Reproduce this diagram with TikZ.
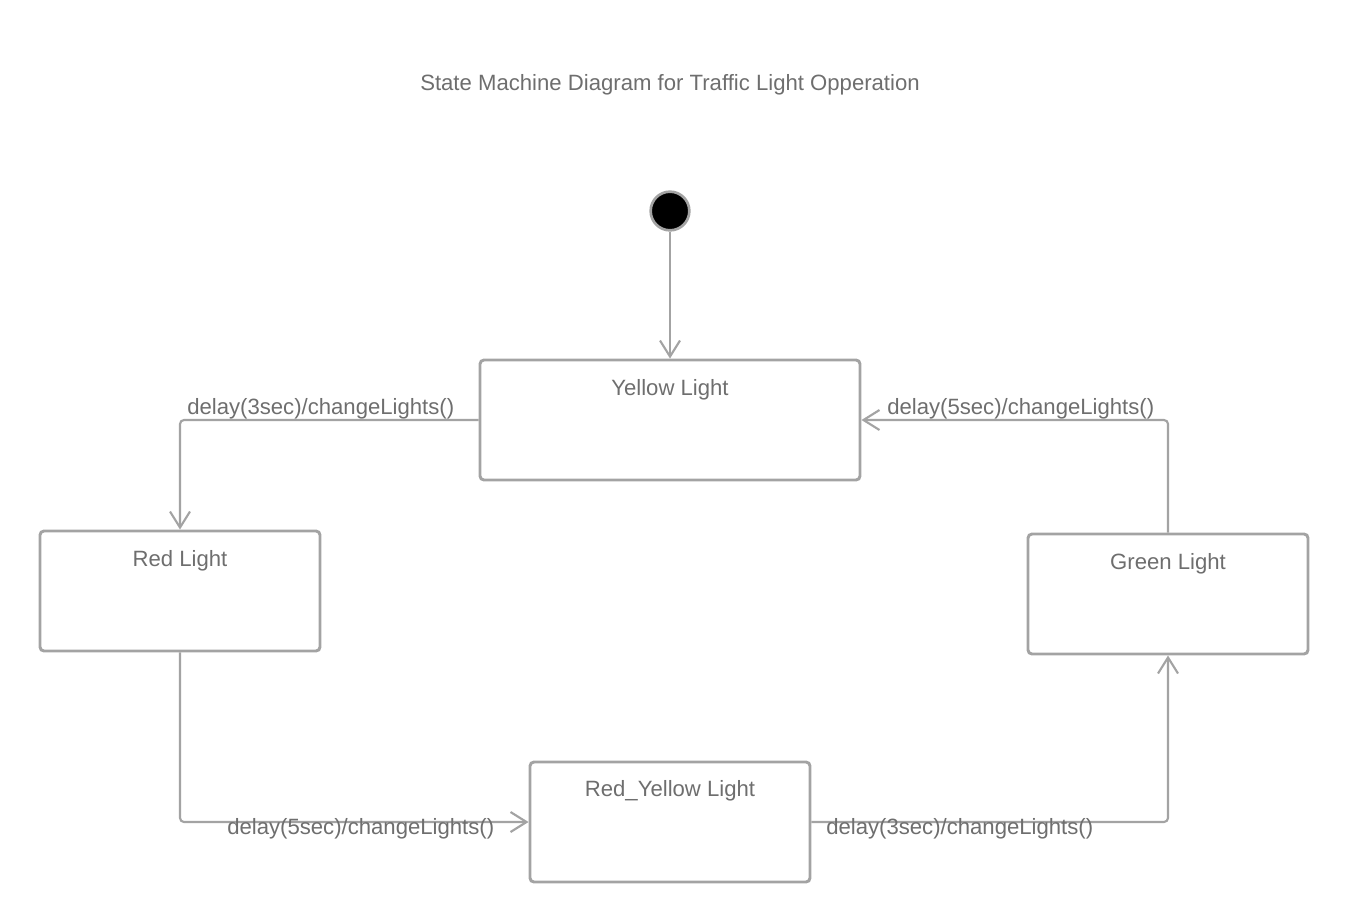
\documentclass[tikz,border=0pt]{standalone}
\usepackage{fontspec}
\setmainfont{Liberation Sans}
\usetikzlibrary{arrows.meta,positioning}
\definecolor{linegray}{HTML}{A3A3A3}
\definecolor{textgray}{HTML}{6E6E6E}
\tikzset{
  state/.style={draw=linegray, line width=2.2pt, rounded corners=3pt,
    minimum width=210pt, minimum height=90pt, inner sep=0pt},
  trans/.style={draw=linegray, line width=1.6pt, rounded corners=3pt,
    -{Straight Barb[length=12pt,width=15pt,line width=1.6pt]}},
  lbl/.style={text=textgray, font=\fontsize{16.6}{19}\selectfont, inner sep=0pt},
}
\begin{document}
\begin{tikzpicture}[x=0.75pt, y=-0.75pt]
            \useasboundingbox (0, 0) rectangle (1349, 922);
            \node[lbl] (title) at (670, 85) {State Machine Diagram for Traffic Light Opperation};

            % start
            \node[circle, fill=black, draw=linegray, line width=2pt, minimum size=29pt, inner sep=0pt] (init) at (670, 211) {};

            % states
            \node[state, minimum width=285pt] (yellow) at (670, 420) {};
            \node[lbl] (yellowname) at (670, 390) {Yellow Light};
            \node[state] (red) at (180, 591) {};
            \node[lbl] (redname) at (180, 561) {Red Light};
            \node[state] (green) at (1168, 594) {};
            \node[lbl] (greenname) at (1168, 564) {Green Light};
            \node[state] (redyellow) at (670, 822) {};
            \node[lbl] (redyellowname) at (670, 791) {Red\_Yellow Light};

            % transitions
            \draw[trans] (init) -- (yellow);
            \draw[trans] (yellow.west) -| (red);
            \draw[trans] (green.north) |- (yellow.east);
            \draw[trans] (red.south) |- (redyellow.west);
            \draw[trans] (redyellow.east) -| (green.south);

            \node[lbl, anchor=west] (t1) at (187, 409) {delay(3sec)/changeLights()};
            \node[lbl, anchor=west] (t2) at (887, 409) {delay(5sec)/changeLights()};
            \node[lbl, anchor=west] (t3) at (227, 829) {delay(5sec)/changeLights()};
            \node[lbl, anchor=west] (t4) at (826, 829) {delay(3sec)/changeLights()};
        \end{tikzpicture}
\end{document}
